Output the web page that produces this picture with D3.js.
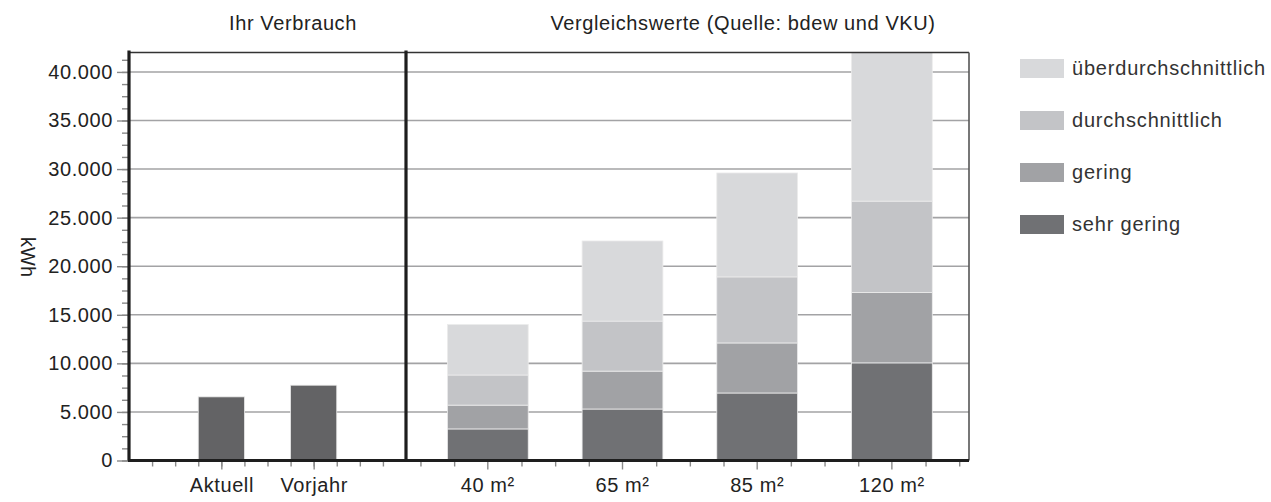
<!DOCTYPE html>
<html>
<head>
    <meta charset='utf-8'>
    <title>Verbrauch</title>
    <style>
        body { margin: 0; background: #fff; }
        svg { display: block; font-family: "Liberation Sans", Arial, sans-serif; }
    </style>
</head>
<body>
<svg width="1271" height="502"></svg>
<script src="https://d3js.org/d3.v7.min.js"></script>
<script>
    // own consumption
    const ownLabels = ["Aktuell", "Vorjahr"]
    const ownValues = [6550, 7750]

    // comparison values per flat size, one array per level
    const sizeLabels = ["40 m²", "65 m²", "85 m²", "120 m²"]
    const levels = ["sehr gering", "gering", "durchschnittlich", "überdurchschnittlich"]
    const sehrGering = [3250, 5300, 6950, 10050]
    const gering = [2450, 3900, 5150, 7250]
    const durchschnittlich = [3100, 5150, 6800, 9400]
    const ueberdurchschnittlich = [5200, 8250, 10700, 15300]

    const yMax = 42000
    const yTicks = [0, 5000, 10000, 15000, 20000, 25000, 30000, 35000, 40000]

    const colors = ["#707174", "#a1a2a5", "#c3c4c7", "#d8d9db"]
    const ownColor = "#636365"

    const plotLeft = 129, plotMid = 406, plotRight = 969, plotTop = 52.5, plotBottom = 460.5
    const font = 20

    const de = d3.formatLocale({decimal: ",", thousands: ".", grouping: [3], currency: ["", " €"]})
    const fmt = de.format(",")

    const svg = d3.select("svg")

    const y = d3.scaleLinear().domain([0, yMax]).range([plotBottom, plotTop])

    const xOwn = d3.scalePoint()
        .domain(ownLabels)
        .range([plotLeft, plotMid])
        .padding(1)

    const xCmp = d3.scaleBand()
        .domain(sizeLabels)
        .range([plotMid, plotRight])
        .paddingInner(0.4)
        .paddingOuter(0.29)
        .align(0.53)

    // grid
    svg.append("g")
        .selectAll("line")
        .data(yTicks.filter(d => d > 0))
        .join("line")
        .attr("x1", plotLeft).attr("x2", plotRight)
        .attr("y1", d => y(d)).attr("y2", d => y(d))
        .attr("stroke", "#a3a3a5")
        .attr("stroke-width", 1.6)

    // own bars
    const ownW = xOwn.step() / 2
    svg.append("g")
        .selectAll("rect")
        .data(ownValues)
        .join("rect")
        .attr("x", (d, i) => xOwn(ownLabels[i]) - ownW / 2)
        .attr("y", d => y(d))
        .attr("width", ownW)
        .attr("height", d => y(0) - y(d))
        .attr("fill", ownColor)
        .attr("stroke", "#e6e6e6")
        .attr("stroke-width", 0.8)

    // stacked comparison bars
    const rows = sizeLabels.map((s, i) => ({
        size: s,
        "sehr gering": sehrGering[i],
        "gering": gering[i],
        "durchschnittlich": durchschnittlich[i],
        "überdurchschnittlich": ueberdurchschnittlich[i]
    }))
    const series = d3.stack().keys(levels)(rows)

    svg.append("g")
        .selectAll("g")
        .data(series)
        .join("g")
        .attr("fill", (d, i) => colors[i])
        .selectAll("rect")
        .data(d => d)
        .join("rect")
        .attr("x", d => xCmp(d.data.size))
        .attr("y", d => y(d[1]))
        .attr("width", xCmp.bandwidth())
        .attr("height", d => y(d[0]) - y(d[1]))
        .attr("stroke", "#ececec")
        .attr("stroke-width", 0.8)

    // frame
    svg.append("line")
        .attr("x1", plotLeft).attr("x2", plotRight).attr("y1", plotTop).attr("y2", plotTop)
        .attr("stroke", "#333").attr("stroke-width", 1.6)
    svg.append("line")
        .attr("x1", plotRight).attr("x2", plotRight).attr("y1", plotTop).attr("y2", plotBottom)
        .attr("stroke", "#555").attr("stroke-width", 1.6)

    // y axis, minor then major ticks
    svg.append("g")
        .attr("transform", `translate(${plotLeft},0)`)
        .call(d3.axisLeft(y).tickValues(d3.range(0, yMax, 1250)).tickSize(7).tickFormat(""))
        .call(g => g.select(".domain").remove())
        .call(g => g.selectAll(".tick line").attr("stroke", "#8a8a8a").attr("stroke-width", 1.4))

    svg.append("g")
        .attr("transform", `translate(${plotLeft},0)`)
        .call(d3.axisLeft(y).tickValues(yTicks).tickSize(12).tickPadding(4).tickFormat(fmt))
        .call(g => g.select(".domain").remove())
        .call(g => g.selectAll(".tick line").attr("stroke", "#8a8a8a").attr("stroke-width", 1.4))
        .call(g => g.selectAll(".tick text")
            .attr("font-size", font)
            .attr("font-family", "Liberation Sans, Arial, sans-serif")
            .attr("letter-spacing", "0.6px")
            .attr("fill", "#222"))

    // x axis minor ticks
    const ownStep = xOwn.step() / 4
    const ownMinor = d3.range(1, 12).map(k => plotLeft + k * ownStep)
    const cmpStep = xCmp.step() / 4
    const cmpMinor = []
    sizeLabels.forEach(s => {
        const c = xCmp(s) + xCmp.bandwidth() / 2
        cmpMinor.push(c - 2 * cmpStep, c - cmpStep, c + cmpStep)
    })
    cmpMinor.push(xCmp(sizeLabels[3]) + xCmp.bandwidth() / 2 + 2 * cmpStep)

    const xLin = d3.scaleLinear().domain([0, 1271]).range([0, 1271])
    svg.append("g")
        .attr("transform", `translate(0,${plotBottom})`)
        .call(d3.axisBottom(xLin).tickValues(ownMinor.concat(cmpMinor)).tickSize(6).tickFormat(""))
        .call(g => g.select(".domain").remove())
        .call(g => g.selectAll(".tick line").attr("stroke", "#8a8a8a").attr("stroke-width", 1.4))

    const majorAxis = (g, scale) => g
        .attr("transform", `translate(0,${plotBottom})`)
        .call(d3.axisBottom(scale).tickSize(9).tickPadding(8))
        .call(g => g.select(".domain").remove())
        .call(g => g.selectAll(".tick line").attr("stroke", "#8a8a8a").attr("stroke-width", 1.4))
        .call(g => g.selectAll(".tick text")
            .attr("font-size", font)
            .attr("font-family", "Liberation Sans, Arial, sans-serif")
            .attr("letter-spacing", "0.6px")
            .attr("fill", "#222"))

    svg.append("g").call(majorAxis, xOwn)
    svg.append("g").call(majorAxis, xCmp)

    // thick axis lines
    svg.append("line")
        .attr("x1", plotLeft - 1).attr("x2", plotRight).attr("y1", plotBottom).attr("y2", plotBottom)
        .attr("stroke", "#1e1e1e").attr("stroke-width", 3.2)
    svg.append("line")
        .attr("x1", plotLeft).attr("x2", plotLeft).attr("y1", plotTop - 2).attr("y2", plotBottom)
        .attr("stroke", "#1e1e1e").attr("stroke-width", 3.2)
    svg.append("line")
        .attr("x1", plotMid).attr("x2", plotMid).attr("y1", plotTop - 2).attr("y2", plotBottom)
        .attr("stroke", "#1e1e1e").attr("stroke-width", 3.2)

    // titles
    svg.append("text")
        .attr("x", 293).attr("y", 30)
        .attr("text-anchor", "middle")
        .attr("font-size", font)
        .attr("letter-spacing", "0.6px")
        .attr("fill", "#222")
        .text("Ihr Verbrauch")

    svg.append("text")
        .attr("x", 743).attr("y", 30)
        .attr("text-anchor", "middle")
        .attr("font-size", font)
        .attr("letter-spacing", "0.6px")
        .attr("fill", "#222")
        .text("Vergleichswerte (Quelle: bdew und VKU)")

    svg.append("text")
        .attr("transform", "translate(21,257) rotate(90)")
        .attr("text-anchor", "middle")
        .attr("font-size", font)
        .attr("fill", "#222")
        .text("kWh")

    // legend
    const legendOrder = levels.slice().reverse()
    const legend = svg.append("g")
        .selectAll("g")
        .data(legendOrder)
        .join("g")
        .attr("transform", (d, i) => `translate(1020,${59 + i * 52})`)

    legend.append("rect")
        .attr("width", 44)
        .attr("height", 19)
        .attr("fill", d => colors[levels.indexOf(d)])

    legend.append("text")
        .attr("x", 52)
        .attr("y", 16)
        .attr("font-size", font)
        .attr("letter-spacing", "0.8px")
        .attr("fill", "#333")
        .text(d => d)
</script>
</body>
</html>
